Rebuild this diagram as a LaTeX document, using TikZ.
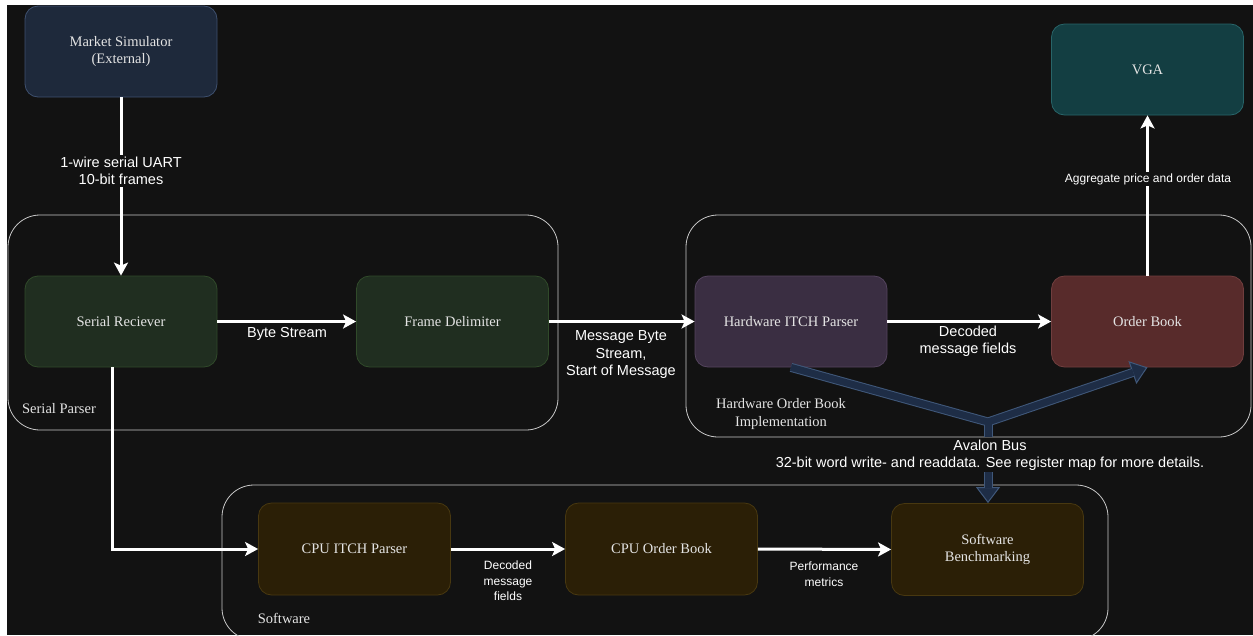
\documentclass[tikz,border=0pt]{standalone}
\usepackage{fontspec}
\setmainfont{Liberation Serif}
\setsansfont{Liberation Sans}
\usetikzlibrary{arrows.meta,calc}
\definecolor{bg}{RGB}{18,18,18}
\definecolor{msfill}{RGB}{30,41,59}
\definecolor{msline}{RGB}{62,80,110}
\definecolor{grfill}{RGB}{32,46,32}
\definecolor{grline}{RGB}{48,74,42}
\definecolor{hwfill}{RGB}{58,46,66}
\definecolor{hwline}{RGB}{84,68,94}
\definecolor{obfill}{RGB}{88,43,43}
\definecolor{obline}{RGB}{112,62,62}
\definecolor{vgafill}{RGB}{19,62,66}
\definecolor{vgaline}{RGB}{40,100,104}
\definecolor{swfill}{RGB}{43,31,6}
\definecolor{swline}{RGB}{72,56,16}
\definecolor{busfill}{RGB}{30,45,70}
\definecolor{busline}{RGB}{64,88,122}
\definecolor{txt}{RGB}{228,228,228}
\definecolor{contline}{RGB}{200,200,200}
\begin{document}
\begin{tikzpicture}[x=1pt,y=-1pt,
  box/.style={rounded corners=13pt, minimum width=192pt, minimum height=91pt, line width=0.8pt,
    inner sep=0pt, align=center, text=txt, font=\fontsize{14.5}{17}\selectfont\rmfamily},
  cont/.style={draw=contline, line width=0.8pt, rounded corners=32pt, inner sep=0pt},
  lbl/.style={text=white, align=center, inner sep=1.5pt, font=\fontsize{14.5}{17.5}\selectfont\sffamily},
  slbl/.style={text=white, align=center, inner sep=1.5pt, font=\fontsize{12}{15.5}\selectfont\sffamily},
  clbl/.style={text=txt, align=center, inner sep=0pt, font=\fontsize{14.5}{18}\selectfont\rmfamily},
  arr/.style={draw=white, line width=3pt, -{Stealth[length=13pt,width=14pt,inset=3pt]}},
  busout/.style={draw=busline, line width=9pt, line join=miter},
  busin/.style={draw=busfill, line width=7pt, line join=miter},
  bushead/.style={-{Triangle[length=16pt,width=24pt,fill=busfill,line width=1pt]}}
]
\useasboundingbox (0,0) rectangle (1253,635);
\fill[white] (0,0) rectangle (1253,635);
\fill[bg] (7,5) rectangle (1253,635);

% containers
\node[cont, minimum width=550pt, minimum height=215pt] (spc) at (283,322.5) {};
\node[cont, minimum width=565pt, minimum height=222pt] (hwc) at (968.5,326) {};
\node[cont, minimum width=886pt, minimum height=155pt] (swc) at (665,562.5) {};

% boxes
\node[box, fill=msfill, draw=msline] (ms) at (121,51.5) {Market Simulator\\(External)};
\node[box, fill=grfill, draw=grline] (sr) at (121,321.5) {Serial Reciever};
\node[box, fill=grfill, draw=grline] (fd) at (452.5,321.5) {Frame Delimiter};
\node[box, fill=hwfill, draw=hwline] (hw) at (791,321.5) {Hardware ITCH Parser};
\node[box, fill=obfill, draw=obline] (ob) at (1147.5,321.5) {Order Book};
\node[box, fill=vgafill, draw=vgaline] (vga) at (1147.5,69.5) {VGA};
\node[box, fill=swfill, draw=swline, minimum height=92pt] (cpu) at (354.5,549) {CPU ITCH Parser};
\node[box, fill=swfill, draw=swline, minimum height=92pt] (cob) at (661.5,549) {CPU Order Book};
\node[box, fill=swfill, draw=swline, minimum height=92pt] (swb) at (987.5,549.5) {Software\\Benchmarking};

% container labels
\node[clbl] (spl) at (59,409) {Serial Parser};
\node[clbl] (hwl) at (781,414) {Hardware Order Book\\Implementation};
\node[clbl] (swl) at (284,618) {Software};

% connectors
\draw[arr] (ms.south) -- (sr.north);
\node[lbl, fill=bg] (uart) at (121,171) {1-wire serial UART\\10-bit frames};
\draw[arr] (sr.east) -- (fd.west);
\node[lbl] (bsl) at (287,334) {Byte Stream};
\draw[arr] (fd.east) -- (hw.west);
\node[lbl] (msl) at (621,355) {Message Byte\\Stream,\\Start of Message};
\draw[arr] (hw.east) -- (ob.west);
\node[lbl] (dml) at (968,341) {Decoded\\message fields};
\draw[arr] (ob.north) -- (vga.south);
\node[slbl, fill=bg] (agl) at (1148,179) {Aggregate price and order data};
\coordinate (srb) at ($(sr.south)+(-9,0)$);
\draw[arr, line join=miter] (srb) |- (cpu.west);
\draw[arr] (cpu.east) -- (cob.west);
\node[slbl] (dml2) at (508,581) {Decoded\\message\\fields};
\draw[arr] (cob.east) -- (swb.west);
\node[slbl] (pml) at (824,574) {Performance\\metrics};

% Avalon bus
\coordinate (junc) at (988,422);
\coordinate (busbot) at (988,437);
\coordinate (busstart) at (988,472);
\draw[busout, bushead] (hw.south) -- (junc) -- (ob.south);
\draw[busout] (junc) -- (busbot);
\draw[busout, bushead] (busstart) -- (busstart |- swb.north);
\draw[busin, shorten >=15pt] (hw.south) -- (junc) -- (ob.south);
\draw[busin] (junc) -- (busbot);
\draw[busin, shorten >=15pt] (busstart) -- (busstart |- swb.north);
\node[lbl, fill=bg, inner sep=0.5pt] (avl) at (990,455) {Avalon Bus\\32-bit word write- and readdata. See register map for more details.};
\end{tikzpicture}
\end{document}
